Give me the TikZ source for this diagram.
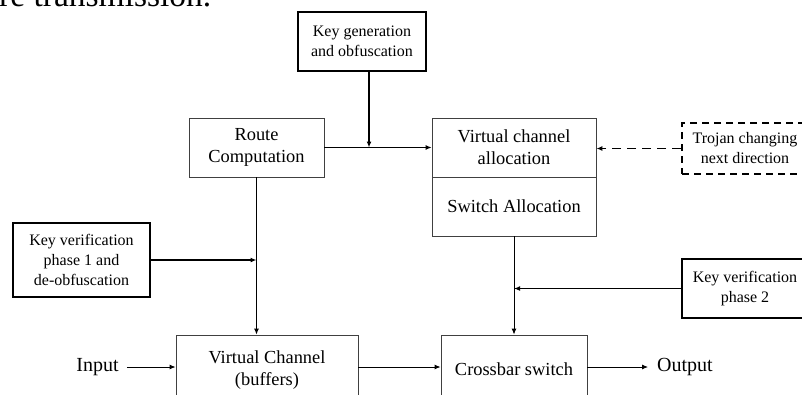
\documentclass[tikz,border=0pt]{standalone}
\usepackage{fontspec}
\setmainfont{Liberation Serif}
\usetikzlibrary{arrows.meta,positioning}
\tikzset{
  mainbox/.style={draw=black!75, line width=0.9pt, align=center, inner sep=0pt,
    font=\fontsize{18.4}{22}\selectfont},
  sidebox/.style={draw=black, line width=1.8pt, align=center, inner sep=0pt,
    font=\fontsize{16}{20}\selectfont},
  thin/.style={draw=black, line width=0.9pt, -{Latex[length=6pt,width=5pt]}},
  thick/.style={draw=black, line width=1.8pt, -{Latex[length=6pt,width=5pt]}},
  iolabel/.style={inner sep=0pt, font=\fontsize{20}{24}\selectfont}
}
\begin{document}
\begin{tikzpicture}[x=1pt,y=-1pt]
\useasboundingbox (0,0) rectangle (802,394);
\clip (0,0) rectangle (802,394);
% cut-off page text
\node[anchor=base west, inner sep=0pt, font=\fontsize{33.5}{40}\selectfont] (pagetext) at (-1,6.5) {re transmission.};
% boxes
\node[sidebox, minimum width=128pt, minimum height=59pt] (keygen) at (362,41.5) {Key generation\\and obfuscation};
\node[mainbox, minimum width=135pt, minimum height=59pt] (route) at (256.5,147.5) {Route\\Computation};
\node[mainbox, minimum width=164pt, minimum height=59pt] (vca) at (514,147.5) {Virtual channel\\allocation};
\node[mainbox, minimum width=164pt, minimum height=59pt] (sa) at (514,206.5) {Switch Allocation};
\node[sidebox, dashed, dash pattern=on 7pt off 5pt, minimum width=126pt, minimum height=51pt] (trojan) at (745,148.5) {Trojan changing\\next direction};
\node[sidebox, minimum width=137pt, minimum height=74pt] (kv1) at (81.5,260) {Key verification\\phase 1 and\\de-obfuscation};
\node[sidebox, minimum width=126pt, minimum height=59pt] (kv2) at (745,288.5) {Key verification\\phase 2};
\node[mainbox, minimum width=182pt, minimum height=70pt] (vcb) at (267,370) {Virtual Channel\\(buffers)};
\node[mainbox, minimum width=146pt, minimum height=68pt] (xbar) at (514,369) {Crossbar switch};
\node[iolabel] (input) at (97.5,367) {Input};
\node[iolabel] (output) at (685,367) {Output};
% connectors
\coordinate (j) at (369,147.5);
\draw[thin] (route.east) -- (route.east -| vca.west);
\draw[thick] (j |- keygen.south) -- (j);
\draw[thick, dashed, dash pattern=on 9pt off 6pt] (trojan.west) -- (trojan.west -| vca.east);
\draw[thin] (route.south) -- (route.south |- vcb.north);
\draw[thick] (kv1.east) -- (kv1.east -| route.south);
\draw[thin] (sa.south) -- (xbar.north);
\draw[thick] (kv2.west) -- (kv2.west -| sa.south);
\draw[thin] (input.east) ++(8,0) coordinate (inp) -- (inp -| vcb.west);
\draw[thin] (vcb.east |- input.east) -- (xbar.west |- input.east);
\draw[thin] (xbar.east |- output.west) -- ([xshift=-9pt]output.west);
\end{tikzpicture}
\end{document}
